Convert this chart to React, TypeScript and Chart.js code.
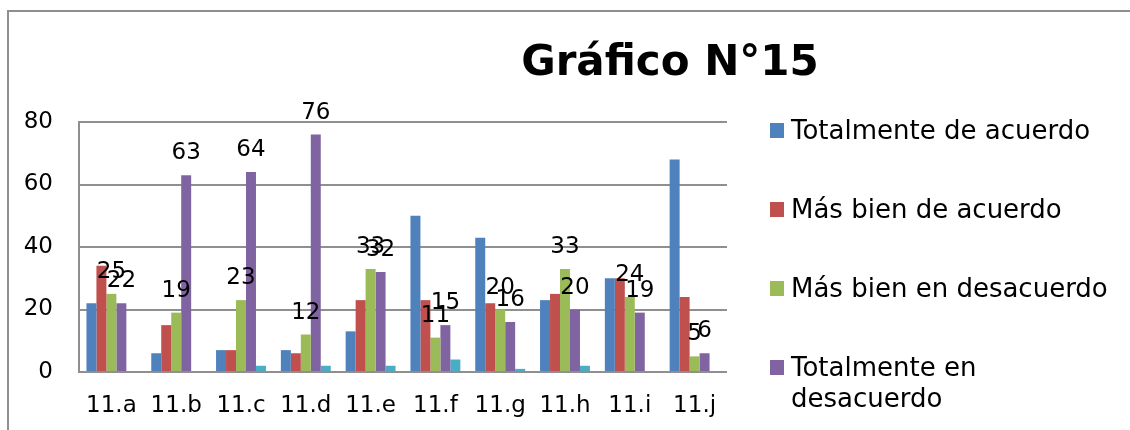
import React, { useEffect, useRef } from "react";
import { Chart, registerables } from "chart.js";

Chart.register(...registerables);

const titleText = "Gráfico N°15";
const categories = ["11.a", "11.b", "11.c", "11.d", "11.e", "11.f", "11.g", "11.h", "11.i", "11.j"];
const seriesNames = [
  "Totalmente de acuerdo",
  "Más bien de acuerdo",
  "Más bien en desacuerdo",
  "Totalmente en desacuerdo",
];
const totalmenteDeAcuerdo = [22, 6, 7, 7, 13, 50, 43, 23, 30, 68];
const masBienDeAcuerdo = [34, 15, 7, 6, 23, 23, 22, 25, 30, 24];
const masBienEnDesacuerdo = [25, 19, 23, 12, 33, 11, 20, 33, 24, 5];
const totalmenteEnDesacuerdo = [22, 63, 64, 76, 32, 15, 16, 20, 19, 6];
const sinRespuesta = [0, 0, 2, 2, 2, 4, 1, 2, 0, 0];
const yTicks = [0, 20, 40, 60, 80];

const colors = ["#4F81BD", "#C0504D", "#9BBB59", "#8064A2", "#4BACC6"];
const labeledSeries = [2, 3];
const FONT = "'DejaVu Sans', sans-serif";

const valueLabels = {
  id: "valueLabels",
  afterDatasetsDraw(chart: any) {
    const ctx = chart.ctx;
    ctx.save();
    ctx.font = `23px ${FONT}`;
    ctx.fillStyle = "#000";
    ctx.textAlign = "center";
    ctx.textBaseline = "alphabetic";
    labeledSeries.forEach((di) => {
      const meta = chart.getDatasetMeta(di);
      const data = chart.data.datasets[di].data as number[];
      meta.data.forEach((bar: any, i: number) => {
        ctx.fillText(String(data[i]), bar.x, bar.y - 16);
      });
    });
    ctx.restore();
  },
};

export default function App() {
  const canvasRef = useRef<HTMLCanvasElement | null>(null);

  useEffect(() => {
    document.body.style.margin = "0";
    const canvas = canvasRef.current;
    if (!canvas) return;
    const seriesData = [
      totalmenteDeAcuerdo,
      masBienDeAcuerdo,
      masBienEnDesacuerdo,
      totalmenteEnDesacuerdo,
      sinRespuesta,
    ];
    const chart = new Chart(canvas, {
      type: "bar",
      data: {
        labels: categories,
        datasets: seriesData.map((d, i) => ({
          label: seriesNames[i] ?? "",
          data: d,
          backgroundColor: colors[i],
          borderWidth: 0,
          barPercentage: 1,
          categoryPercentage: 0.77,
        })),
      },
      options: {
        animation: false,
        responsive: false,
        layout: { padding: { top: 122, right: 403, left: 0, bottom: 0 } },
        plugins: {
          legend: { display: false },
          title: { display: false },
          tooltip: { enabled: false },
        },
        scales: {
          x: {
            grid: { display: false, drawTicks: false },
            border: { display: false },
            ticks: {
              color: "#000",
              font: { family: FONT, size: 23 },
              padding: 20,
              maxRotation: 0,
            },
            afterFit(scale: any) {
              scale.height = 58;
            },
          },
          y: {
            min: 0,
            max: 80,
            afterBuildTicks(scale: any) {
              scale.ticks = yTicks.map((v) => ({ value: v }));
            },
            grid: { color: "#8f8f8f", lineWidth: 2, drawTicks: false },
            border: { display: true, color: "#8f8f8f", width: 2 },
            ticks: {
              color: "#000",
              font: { family: FONT, size: 23 },
              padding: 26,
            },
            afterFit(scale: any) {
              scale.width = 79;
            },
          },
        },
      },
      plugins: [valueLabels],
    });
    return () => chart.destroy();
  }, []);

  return (
    <div style={{ position: "relative", width: 1130, height: 430, background: "#fff", overflow: "hidden" }}>
      <div
        style={{
          position: "absolute",
          left: 7,
          top: 10,
          width: 1123,
          height: 420,
          borderTop: "2px solid #8f8f8f",
          borderLeft: "2px solid #8f8f8f",
          boxSizing: "border-box",
        }}
      />
      <canvas ref={canvasRef} width={1130} height={430} style={{ position: "absolute", left: 0, top: 0 }} />
      <div
        style={{
          position: "absolute",
          left: 670,
          top: 40,
          transform: "translateX(-50%)",
          whiteSpace: "nowrap",
          fontFamily: FONT,
          fontWeight: "bold",
          fontSize: 42,
          lineHeight: "42px",
          color: "#000",
        }}
      >
        {titleText}
      </div>
      <div style={{ position: "absolute", left: 770, top: 115, fontFamily: FONT }}>
        {seriesNames.map((name, i) => (
          <div key={name} style={{ display: "flex", alignItems: "flex-start", height: 79 }}>
            <div
              style={{
                width: 14,
                height: 15,
                marginTop: 8,
                background: colors[i],
                flex: "0 0 auto",
              }}
            />
            <div
              style={{
                marginLeft: 7,
                width: 335,
                fontSize: 26,
                lineHeight: "31px",
                color: "#000",
              }}
            >
              {name}
            </div>
          </div>
        ))}
      </div>
    </div>
  );
}
